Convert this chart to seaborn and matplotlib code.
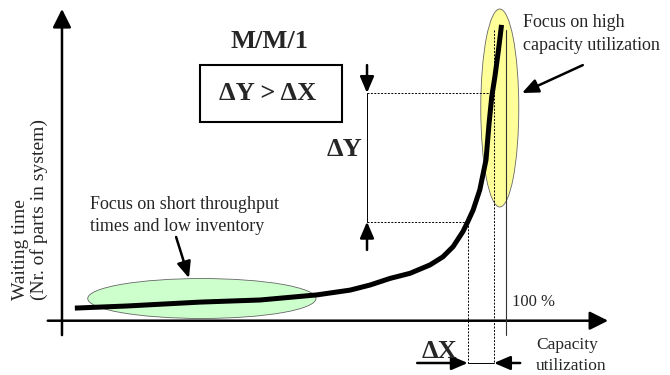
import numpy as np
import pandas as pd
import seaborn as sns
import matplotlib.pyplot as plt
from matplotlib.patches import Ellipse, Rectangle

# M/M/1 curve (utilization as fraction, waiting time in arbitrary units)
utilization = [0.029, 0.146, 0.311, 0.446, 0.574, 0.649, 0.694, 0.739, 0.784, 0.829,
               0.858, 0.881, 0.903, 0.914, 0.926, 0.941, 0.955, 0.962, 0.968, 0.975,
               0.983, 0.990]
waiting = [0.42, 0.49, 0.62, 0.69, 0.86, 1.02, 1.19, 1.41, 1.58, 1.86,
           2.13, 2.47, 2.97, 3.30, 3.69, 4.36, 5.36, 6.59, 7.47, 8.13,
           9.02, 9.86]

# the two compared points on the curve
dx_points = [0.914, 0.973]
dy_points = [3.30, 7.59]

sns.set_style("white")
plt.rcParams["font.family"] = ["Liberation Serif", "DejaVu Serif"]

fig = plt.figure(figsize=(6.7, 3.75), dpi=100)
ax = fig.add_axes([0, 0, 1, 1])
ax.set_xlim(-0.1396, 1.3694)
ax.set_ylim(-1.81, 10.69)
ax.set_axis_off()

df = pd.DataFrame({"Capacity utilization": utilization, "Waiting time": waiting})

# highlighted areas
ax.add_patch(Ellipse((0.315, 0.74), 0.514, 1.33, facecolor="#ccffcc",
                     edgecolor="#666666", lw=0.6, zorder=1))
ax.add_patch(Ellipse((0.986, 7.09), 0.0856, 6.6, facecolor="#ffff99",
                     edgecolor="#666666", lw=0.6, zorder=1))

sns.lineplot(data=df, x="Capacity utilization", y="Waiting time", color="black",
             linewidth=3.6, ax=ax, zorder=4, solid_capstyle="butt", solid_joinstyle="round")

# axes with arrow heads
ax.annotate("", xy=(0, 10.39), xytext=(0, -0.48),
            arrowprops=dict(arrowstyle="-|>,head_length=0.8,head_width=0.4",
                            mutation_scale=14, color="black", lw=1.8, shrinkA=0, shrinkB=0))
ax.annotate("", xy=(1.23, 0), xytext=(-0.032, 0),
            arrowprops=dict(arrowstyle="-|>,head_length=0.8,head_width=0.4",
                            mutation_scale=14, color="black", lw=1.8, shrinkA=0, shrinkB=0))

# 100 % line
ax.plot([1.0, 1.0], [-0.48, 9.69], color="#333333", lw=0.8, zorder=3)
ax.text(1.014, 0.62, "100 %", fontsize=12, va="center", ha="left")

# dotted helper lines
dots = dict(color="black", lw=0.7, ls=(0, (2, 1.5)), zorder=3)
ax.plot([0.687, dx_points[1]], [dy_points[1], dy_points[1]], **dots)
ax.plot([0.687, dx_points[0]], [dy_points[0], dy_points[0]], **dots)
ax.plot([dx_points[0], dx_points[0]], [dy_points[0], -1.41], **dots)
ax.plot([dx_points[1], dx_points[1]], [9.69, -1.41], **dots)

# delta Y marker
small_arrow = dict(arrowstyle="-|>,head_length=0.7,head_width=0.3", mutation_scale=14,
                   color="black", lw=1.8, shrinkA=0, shrinkB=0)
ax.plot([0.687, 0.687], dy_points, color="black", lw=0.7)
ax.annotate("", xy=(0.687, dy_points[1]), xytext=(0.687, 8.52), arrowprops=small_arrow)
ax.annotate("", xy=(0.687, dy_points[0]), xytext=(0.687, 2.36), arrowprops=small_arrow)
ax.text(0.637, 5.69, "ΔY", fontsize=19, fontweight="bold", ha="center", va="center")

# delta X marker
ax.plot(dx_points, [-1.41, -1.41], color="black", lw=0.7)
ax.annotate("", xy=(dx_points[0], -1.41), xytext=(0.80, -1.41), arrowprops=small_arrow)
ax.annotate("", xy=(dx_points[1], -1.41), xytext=(1.032, -1.41), arrowprops=small_arrow)
ax.text(0.851, -1.02, "ΔX", fontsize=19, fontweight="bold", ha="center", va="center")

# title and box
ax.text(0.468, 9.29, "M/M/1", fontsize=19, fontweight="bold", ha="center", va="center")
ax.add_patch(Rectangle((0.311, 6.62), 0.32, 1.9, facecolor="white", edgecolor="black", lw=1.5, zorder=2))
ax.text(0.464, 7.59, "ΔY > ΔX", fontsize=19, fontweight="bold", ha="center", va="center", zorder=3)

# notes
ax.text(1.038, 10.22, "Focus on high\ncapacity utilization", fontsize=13, ha="left", va="top",
        linespacing=1.45)
ax.annotate("", xy=(1.036, 7.59), xytext=(1.173, 8.52), arrowprops=small_arrow)
ax.text(0.063, 4.17, "Focus on short throughput\ntimes and low inventory", fontsize=13,
        ha="left", va="top", linespacing=1.45)
ax.annotate("", xy=(0.286, 1.42), xytext=(0.257, 2.79), arrowprops=small_arrow)

# axis labels
ax.text(1.068, -0.54, "Capacity\nutilization", fontsize=12.5, ha="left", va="top", linespacing=1.45)
ax.text(-0.0721, 0.69, "Waiting time\n(Nr. of parts in system)", fontsize=14, rotation=90,
        ha="center", va="bottom", multialignment="left", linespacing=1.1)

fig.savefig("out.png", dpi=100)
